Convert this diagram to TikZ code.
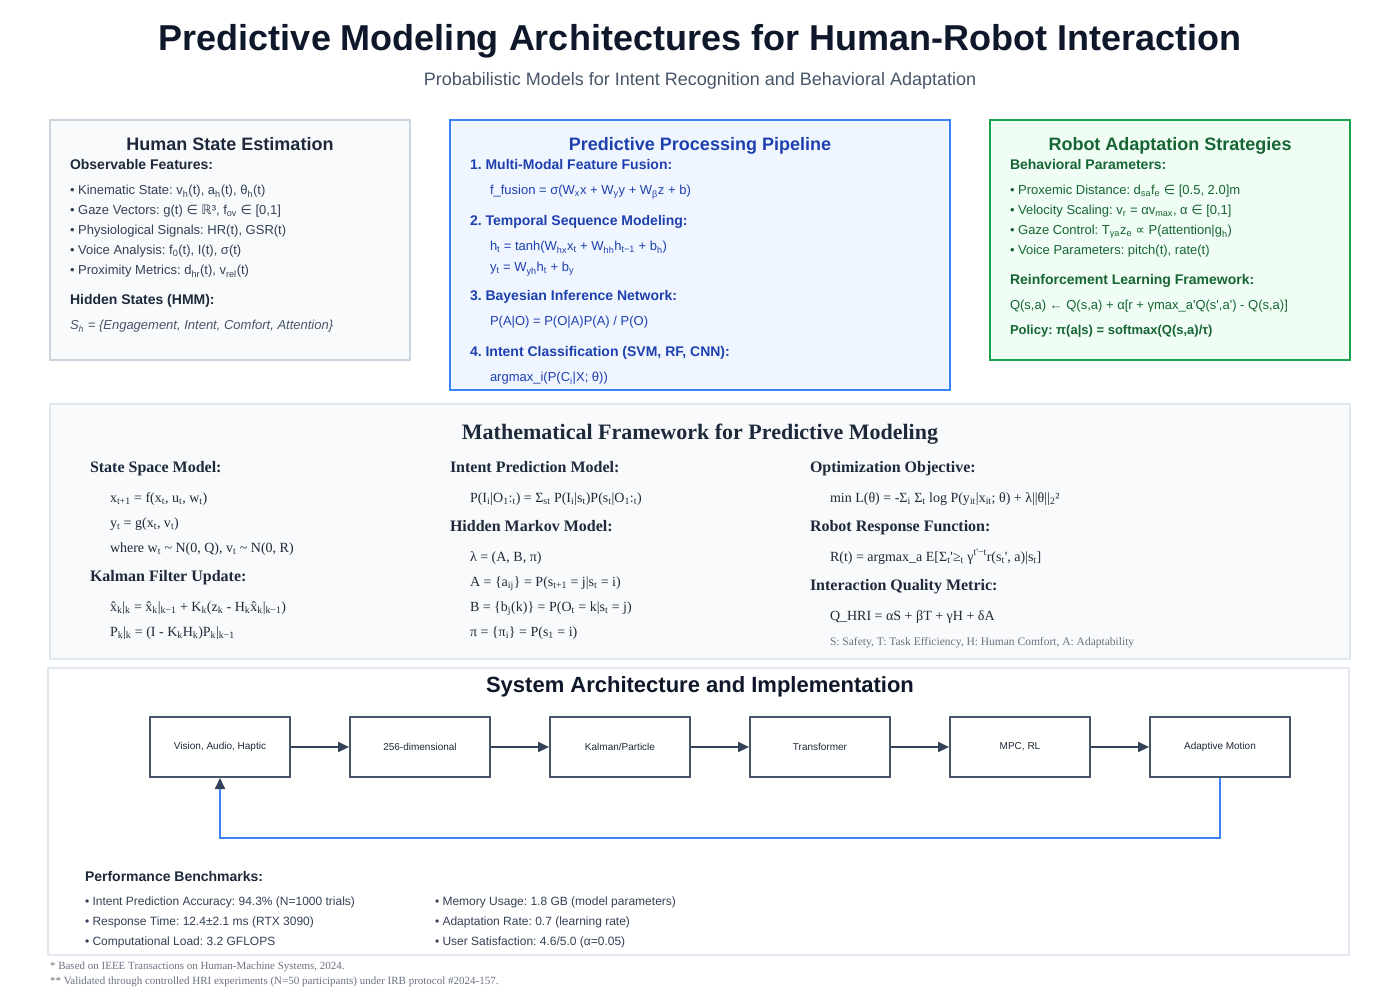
\documentclass[tikz,border=0pt]{standalone}
\usepackage{fontspec}
\setmainfont{Liberation Sans}[Ligatures=TeXOff]
\newfontfamily\tms{Liberation Serif}[Ligatures=TeXOff]
\newfontfamily\dv{DejaVu Sans}
\usetikzlibrary{arrows.meta}
\frenchspacing
\newcommand\fs[1]{\fontsize{#1}{#1}\selectfont}
\newcommand\sbt[1]{\textsubscript{#1}}
\newcommand\xhat{\accent"02C6 x}
\definecolor{titlec}{HTML}{0F172A}
\definecolor{subc}{HTML}{475569}
\definecolor{darkc}{HTML}{1E293B}
\definecolor{bodyc}{HTML}{334155}
\definecolor{grayc}{HTML}{6B7280}
\definecolor{p1fill}{HTML}{F8FAFC}
\definecolor{p1draw}{HTML}{CBD5E1}
\definecolor{p2fill}{HTML}{EFF6FF}
\definecolor{p2draw}{HTML}{3B82F6}
\definecolor{bluec}{HTML}{1E40AF}
\definecolor{p3fill}{HTML}{F0FDF4}
\definecolor{p3draw}{HTML}{16A34A}
\definecolor{greenc}{HTML}{166534}
\definecolor{p4draw}{HTML}{E2E8F0}
\definecolor{flowc}{HTML}{475569}
\definecolor{flowt}{HTML}{1F2937}
\definecolor{arrc}{HTML}{334155}
\definecolor{fbc}{HTML}{3B82F6}
\begin{document}
\begin{tikzpicture}[x=1pt,y=-1pt,
  txt/.style={anchor=base west, inner sep=0pt, outer sep=0pt},
  txc/.style={anchor=base, inner sep=0pt, outer sep=0pt},
  panel/.style={line width=2pt, inner sep=0pt, outer sep=0pt},
  flow/.style={draw=flowc, line width=2pt, fill=white, minimum width=140pt, minimum height=60pt, inner sep=0pt, font=\fs{10}, text=flowt},
  arr/.style={draw=arrc, line width=2pt, -{Triangle[length=11pt,width=10pt]}},
  fb/.style={draw=fbc, line width=2pt, -{Triangle[length=11pt,width=10pt,color=arrc]}},
  ptitle/.style={txc, font=\bfseries\fs{18}},
  phead/.style={txt, font=\bfseries\fs{14}},
  pbody/.style={txt, font=\fs{13}},
  mhead/.style={txt, font=\tms\bfseries\fs{16}, text=darkc},
  mbody/.style={txt, font=\tms\fs{14}, text=flowt},
  bench/.style={txt, font=\fs{12}, text=bodyc},
  foot/.style={txt, font=\tms\fs{11}, text=grayc}
]
\path[use as bounding box, fill=white] (0,0) rectangle (1400,1000);

% Title
\node[txc, font=\bfseries\fs{36}, text=titlec] (title) at (700,51) {Predictive Modeling Architectures for Human-Robot Interaction};
\node[txc, font=\fs{18}, text=subc] (subtitle) at (700,85.5) {Probabilistic Models for Intent Recognition and Behavioral Adaptation};

% Panels
\node[panel, draw=p1draw, fill=p1fill, minimum width=360pt, minimum height=240pt] (p1) at (230,240) {};
\node[panel, draw=p2draw, fill=p2fill, minimum width=500pt, minimum height=270pt] (p2) at (700,255) {};
\node[panel, draw=p3draw, fill=p3fill, minimum width=360pt, minimum height=240pt] (p3) at (1170,240) {};
\node[panel, draw=p4draw, fill=p1fill, minimum width=1300pt, minimum height=255pt] (p4) at (700,531.5) {};
\node[panel, draw=p4draw, fill=white, minimum width=1301pt, minimum height=287pt] (p5) at (698.5,811.5) {};

% Panel 1
\node[ptitle, text=darkc] (p1t) at (230,150.5) {Human State Estimation};
\node[phead, text=darkc] (p1h1) at (70,170) {Observable Features:};
\node[pbody, text=bodyc] (p1b1) at (70,194.7) {• Kinematic State: v\sbt{h}(t), a\sbt{h}(t), θ\sbt{h}(t)};
\node[pbody, text=bodyc] (p1b2) at (70,214.7) {• Gaze Vectors: g(t) {\dv ∈} {\dv ℝ}³, f\sbt{ov} {\dv ∈} [0,1]};
\node[pbody, text=bodyc] (p1b3) at (70,234.7) {• Physiological Signals: HR(t), GSR(t)};
\node[pbody, text=bodyc] (p1b4) at (70,254.7) {• Voice Analysis: f\sbt{0}(t), I(t), σ(t)};
\node[pbody, text=bodyc] (p1b5) at (70,274.7) {• Proximity Metrics: d\sbt{hr}(t), v\sbt{rel}(t)};
\node[phead, text=darkc] (p1h2) at (70,305) {Hidden States (HMM):};
\node[pbody, font=\itshape\fs{13}, text=subc] (p1b6) at (70,329.7) {S\sbt{h} = \{Engagement, Intent, Comfort, Attention\}};

% Panel 2
\node[ptitle, text=bluec] (p2t) at (700,150.5) {Predictive Processing Pipeline};
\node[phead, text=bluec] (p2h1) at (470,170) {1. Multi-Modal Feature Fusion:};
\node[pbody, text=bluec] (p2b1) at (490,194.7) {f\_fusion = σ(W\sbt{x}x + W\sbt{y}y + W\sbt{β}z + b)};
\node[phead, text=bluec] (p2h2) at (470,226) {2. Temporal Sequence Modeling:};
\node[pbody, text=bluec] (p2b2) at (490,250.7) {h\sbt{t} = tanh(W\sbt{hx}x\sbt{t} + W\sbt{hh}h\sbt{t−1} + b\sbt{h})};
\node[pbody, text=bluec] (p2b3) at (490,271.7) {y\sbt{t} = W\sbt{yh}h\sbt{t} + b\sbt{y}};
\node[phead, text=bluec] (p2h3) at (470,301) {3. Bayesian Inference Network:};
\node[pbody, text=bluec] (p2b4) at (490,325.7) {P(A|O) = P(O|A)P(A) / P(O)};
\node[phead, text=bluec] (p2h4) at (470,356) {4. Intent Classification (SVM, RF, CNN):};
\node[pbody, text=bluec] (p2b5) at (490,381.7) {argmax\_i(P(C\sbt{i}|X; θ))};

% Panel 3
\node[ptitle, text=greenc] (p3t) at (1170,150.5) {Robot Adaptation Strategies};
\node[phead, text=greenc] (p3h1) at (1010,170) {Behavioral Parameters:};
\node[pbody, text=greenc] (p3b1) at (1010,194.7) {• Proxemic Distance: d\sbt{sa}f\sbt{e} {\dv ∈} [0.5, 2.0]m};
\node[pbody, text=greenc] (p3b2) at (1010,214.7) {• Velocity Scaling: v\sbt{r} = αv\sbt{max}, α {\dv ∈} [0,1]};
\node[pbody, text=greenc] (p3b3) at (1010,234.7) {• Gaze Control: T\sbt{γa}z\sbt{e} {\dv ∝} P(attention|g\sbt{h})};
\node[pbody, text=greenc] (p3b4) at (1010,254.7) {• Voice Parameters: pitch(t), rate(t)};
\node[phead, text=greenc] (p3h2) at (1010,285) {Reinforcement Learning Framework:};
\node[pbody, text=greenc] (p3b5) at (1010,309.7) {Q(s,a) ← Q(s,a) + α[r + γmax\_a'Q(s',a') - Q(s,a)]};
\node[pbody, font=\bfseries\fs{13}, text=greenc] (p3b6) at (1010,334.7) {Policy: π(a|s) = softmax(Q(s,a)/τ)};

% Panel 4: Mathematical framework
\node[txc, font=\tms\bfseries\fs{22}, text=darkc] (p4t) at (700,439) {Mathematical Framework for Predictive Modeling};
\node[mhead] (m1h1) at (90,472.8) {State Space Model:};
\node[mbody] (m1b1) at (110,502) {x\sbt{t+1} = f(x\sbt{t}, u\sbt{t}, w\sbt{t})};
\node[mbody] (m1b2) at (110,527) {y\sbt{t} = g(x\sbt{t}, v\sbt{t})};
\node[mbody] (m1b3) at (110,552) {where w\sbt{t} \textasciitilde{} N(0, Q), v\sbt{t} \textasciitilde{} N(0, R)};
\node[mhead] (m1h2) at (90,581.8) {Kalman Filter Update:};
\node[mbody] (m1b4) at (110,611) {\xhat\sbt{k}|\sbt{k} = \xhat\sbt{k}|\sbt{k−1} + K\sbt{k}(z\sbt{k} - H\sbt{k}\xhat\sbt{k}|\sbt{k−1})};
\node[mbody] (m1b5) at (110,636) {P\sbt{k}|\sbt{k} = (I - K\sbt{k}H\sbt{k})P\sbt{k}|\sbt{k−1}};

\node[mhead] (m2h1) at (450,472.8) {Intent Prediction Model:};
\node[mbody] (m2b1) at (470,502) {P(I\sbt{i}|O\sbt{1}:\sbt{t}) = Σ\sbt{st} P(I\sbt{i}|s\sbt{t})P(s\sbt{t}|O\sbt{1}:\sbt{t})};
\node[mhead] (m2h2) at (450,531.8) {Hidden Markov Model:};
\node[mbody] (m2b2) at (470,561) {λ = (A, B, π)};
\node[mbody] (m2b3) at (470,586) {A = \{a\sbt{ij}\} = P(s\sbt{t+1} = j|s\sbt{t} = i)};
\node[mbody] (m2b4) at (470,611) {B = \{b\sbt{j}(k)\} = P(O\sbt{t} = k|s\sbt{t} = j)};
\node[mbody] (m2b5) at (470,636) {π = \{π\sbt{i}\} = P(s\sbt{1} = i)};

\node[mhead] (m3h1) at (810,472.8) {Optimization Objective:};
\node[mbody] (m3b1) at (830,502) {min L(θ) = -Σ\sbt{i} Σ\sbt{t} log P(y\sbt{it}|x\sbt{it}; θ) + λ||θ||\sbt{2}²};
\node[mhead] (m3h2) at (810,531.8) {Robot Response Function:};
\node[mbody] (m3b2) at (830,561) {R(t) = argmax\_a E[Σ\sbt{t}'≥\sbt{t} γ\textsuperscript{t'−t}r(s\sbt{t}', a)|s\sbt{t}]};
\node[mhead] (m3h3) at (810,590.8) {Interaction Quality Metric:};
\node[mbody] (m3b3) at (830,620) {Q\_HRI = αS + βT + γH + δA};
\node[txt, font=\tms\fs{11.5}, text=grayc] (m3b4) at (830,645) {S: Safety, T: Task Efficiency, H: Human Comfort, A: Adaptability};

% Panel 5: System architecture
\node[txc, font=\bfseries\fs{22}, text=titlec] (p5t) at (700,692.5) {System Architecture and Implementation};
\node[flow] (f1) at (220,747) {Vision, Audio, Haptic};
\node[flow] (f2) at (420,747) {256-dimensional};
\node[flow] (f3) at (620,747) {Kalman/Particle};
\node[flow] (f4) at (820,747) {Transformer};
\node[flow] (f5) at (1020,747) {MPC, RL};
\node[flow] (f6) at (1220,747) {Adaptive Motion};
\draw[arr] (f1) -- (f2);
\draw[arr] (f2) -- (f3);
\draw[arr] (f3) -- (f4);
\draw[arr] (f4) -- (f5);
\draw[arr] (f5) -- (f6);
\draw[fb] (f6.south) -- ++(0,60) -| (f1.south);

\node[phead, text=darkc] (bh) at (85,881) {Performance Benchmarks:};
\node[bench] (b1) at (85,905.3) {• Intent Prediction Accuracy: 94.3\% (N=1000 trials)};
\node[bench] (b2) at (85,925.3) {• Response Time: 12.4±2.1 ms (RTX 3090)};
\node[bench] (b3) at (85,945.3) {• Computational Load: 3.2 GFLOPS};
\node[bench] (b4) at (435,905.3) {• Memory Usage: 1.8 GB (model parameters)};
\node[bench] (b5) at (435,925.3) {• Adaptation Rate: 0.7 (learning rate)};
\node[bench] (b6) at (435,945.3) {• User Satisfaction: 4.6/5.0 (α=0.05)};

% Footnotes
\node[foot] (fn1) at (50,969.8) {* Based on IEEE Transactions on Human-Machine Systems, 2024.};
\node[foot] (fn2) at (50,984.8) {** Validated through controlled HRI experiments (N=50 participants) under IRB protocol \#2024-157.};
\end{tikzpicture}
\end{document}
